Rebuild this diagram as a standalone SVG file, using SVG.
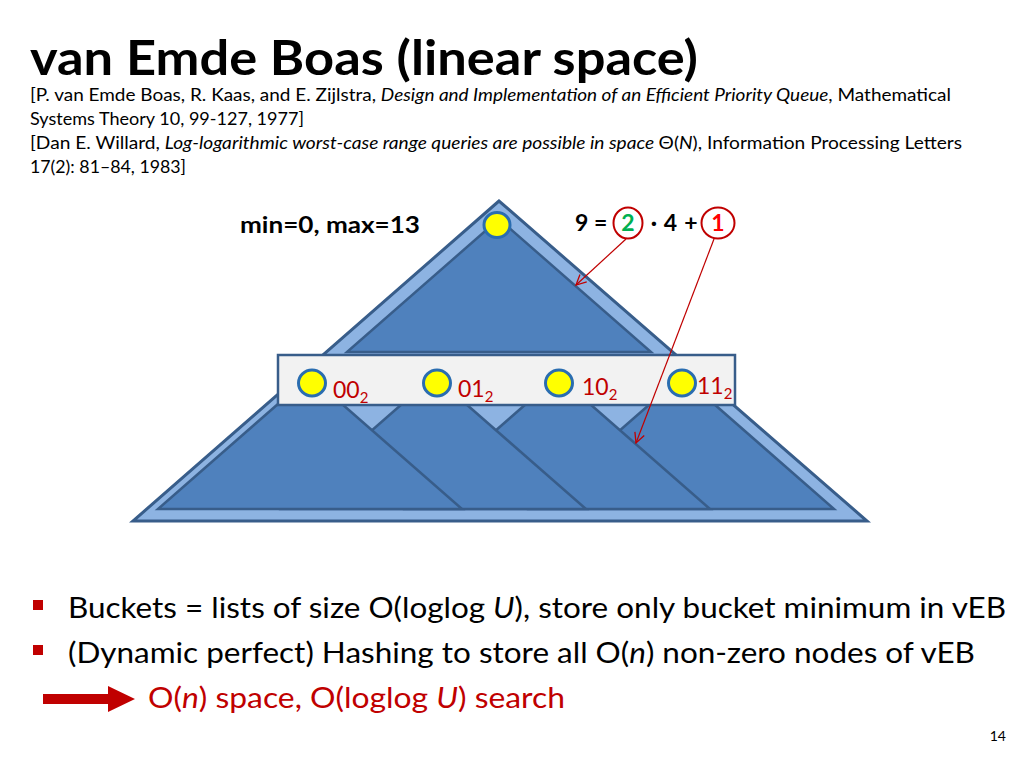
<svg xmlns="http://www.w3.org/2000/svg" width="1024" height="768" viewBox="0 0 1024 768">
<defs>
<style>
.t{font-family:Lato,"Open Sans","Liberation Sans",sans-serif;fill:#000}
.b{font-weight:bold}
.i{font-style:italic}
.outer{fill:#8db3e2;stroke:#385d8a;stroke-width:3;stroke-linejoin:miter}
.tri{fill:#4f81bd;stroke:#385d8a;stroke-width:2.5;stroke-linejoin:miter}
.box{fill:#f2f2f2;stroke:#385d8a;stroke-width:2.5}
.node{fill:#ffff00;stroke:#2a6db0;stroke-width:3}
.lbl{font-family:Lato,"Open Sans","Liberation Sans",sans-serif;fill:#c00000;font-size:23px}
.conn{fill:none;stroke:#c00000;stroke-width:1.2}
.ring{fill:#fff;stroke:#c00000;stroke-width:2}
</style>
<marker id="ah" viewBox="0 0 12 12" refX="11" refY="6" markerWidth="12" markerHeight="12" markerUnits="userSpaceOnUse" orient="auto">
<path d="M1,1 L11,6 L1,11" fill="none" stroke="#c00000" stroke-width="1.3"/>
</marker>
</defs>
<rect width="1024" height="768" fill="#fff"/>

<g id="title">
<text class="t b" x="30" y="75" font-size="48" textLength="668" lengthAdjust="spacingAndGlyphs">van Emde Boas (linear space)</text>
</g>
<g id="citations" font-size="17">
<text class="t" x="30" y="101" textLength="921" lengthAdjust="spacingAndGlyphs">[P. van Emde Boas, R. Kaas, and E. Zijlstra, <tspan class="i">Design and Implementation of an Efficient Priority Queue</tspan>, Mathematical</text>
<text class="t" x="30" y="125" textLength="274" lengthAdjust="spacingAndGlyphs">Systems Theory 10, 99-127, 1977]</text>
<text class="t" x="30" y="149" textLength="932" lengthAdjust="spacingAndGlyphs">[Dan E. Willard, <tspan class="i">Log-logarithmic worst-case range queries are possible in space </tspan>Θ(<tspan class="i">N</tspan>), Information Processing Letters</text>
<text class="t" x="30" y="173" textLength="156" lengthAdjust="spacingAndGlyphs">17(2): 81–84, 1983]</text>
</g>

<g id="outer-tree">
<polygon class="outer" points="499,201 133,521 867,521"/>
</g>
<g id="subtree-4"><polygon class="tri" points="682,376 530,509 834,509"/></g>
<g id="subtree-3"><polygon class="tri" points="558,376 406,509 710,509"/></g>
<g id="subtree-2"><polygon class="tri" points="434,376 282,509 586,509"/></g>
<g id="subtree-1"><polygon class="tri" points="310,376 158,509 462,509"/></g>
<g id="top-tree"><polygon class="tri" points="499,219 347,352 651,352"/></g>

<g id="bucket-box"><rect class="box" x="278" y="355" width="457" height="50"/></g>

<g id="root-node"><ellipse class="node" cx="497" cy="225" rx="13" ry="12.5"/></g>
<g id="bucket-00"><ellipse class="node" cx="312" cy="383" rx="13.5" ry="13"/><text class="lbl" x="333" y="398">00<tspan font-size="15" dy="5">2</tspan></text></g>
<g id="bucket-01"><ellipse class="node" cx="437" cy="383" rx="13.5" ry="13"/><text class="lbl" x="458" y="397">01<tspan font-size="15" dy="5">2</tspan></text></g>
<g id="bucket-10"><ellipse class="node" cx="559" cy="383" rx="13.5" ry="13"/><text class="lbl" x="582" y="395">10<tspan font-size="15" dy="5">2</tspan></text></g>
<g id="bucket-11"><ellipse class="node" cx="682" cy="383" rx="13.5" ry="13"/><text class="lbl" x="697" y="394">11<tspan font-size="15" dy="5">2</tspan></text></g>

<g id="minmax"><text class="t b" x="240" y="233" font-size="23" textLength="180" lengthAdjust="spacingAndGlyphs">min=0, max=13</text></g>

<g id="equation" font-size="23">
<text class="t b" x="575" y="231">9 =</text>
<ellipse class="ring" cx="628" cy="223" rx="14.5" ry="15.5"/>
<text class="t b" x="628" y="231" text-anchor="middle" style="fill:#00b050">2</text>
<text class="t b" x="654" y="231" text-anchor="middle">·</text>
<text class="t b" x="670.5" y="231" text-anchor="middle">4</text>
<text class="t b" x="691" y="231" text-anchor="middle">+</text>
<ellipse class="ring" cx="718" cy="223" rx="16.5" ry="15.5"/>
<text class="t b" x="718" y="231" text-anchor="middle" style="fill:#ff0000">1</text>
</g>

<g id="connectors">
<line class="conn" x1="626" y1="239" x2="576" y2="285" marker-end="url(#ah)"/>
<line class="conn" x1="714" y1="239" x2="636" y2="443" marker-end="url(#ah)"/>
</g>

<g id="bullets" font-size="28">
<rect x="33" y="600" width="10" height="10" fill="#c00000"/>
<text class="t" x="68" y="618" textLength="938" lengthAdjust="spacingAndGlyphs">Buckets = lists of size O(loglog <tspan class="i">U</tspan>), store only bucket minimum in vEB</text>
<rect x="33" y="645" width="10" height="10" fill="#c00000"/>
<text class="t" x="68" y="663" textLength="907" lengthAdjust="spacingAndGlyphs">(Dynamic perfect) Hashing to store all O(<tspan class="i">n</tspan>) non-zero nodes of vEB</text>
<polygon points="43,694 108,694 108,686 135,699 108,712 108,704 43,704" fill="#c00000"/>
<text class="t" x="148" y="708" textLength="417" lengthAdjust="spacingAndGlyphs" style="fill:#c00000">O(<tspan class="i">n</tspan>) space, O(loglog <tspan class="i">U</tspan>) search</text>
</g>

<g id="page-number"><text class="t" x="1006" y="741" font-size="14" text-anchor="end">14</text></g>
</svg>
